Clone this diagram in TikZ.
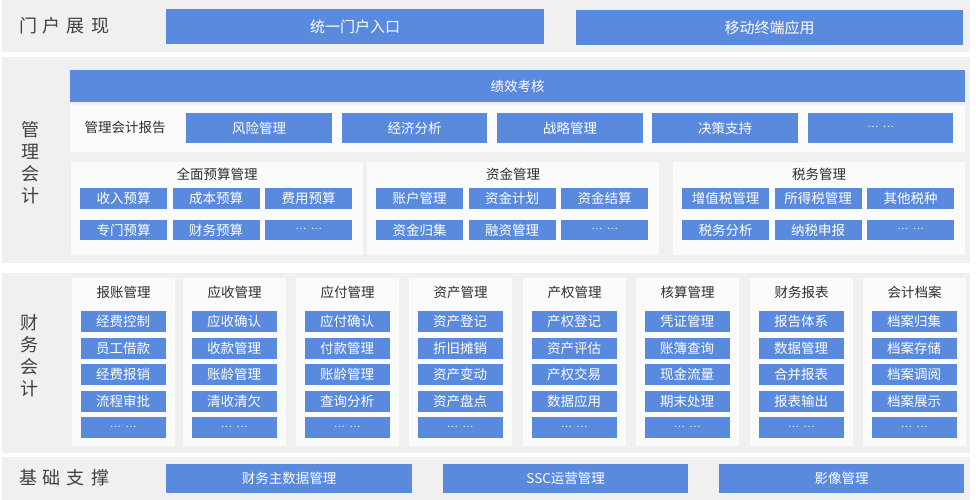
\documentclass[tikz,border=0pt]{standalone}
\usepackage{fontspec}
\setmainfont{Noto Sans CJK SC}
\definecolor{bl}{RGB}{90,138,222}
\definecolor{bandc}{RGB}{240,240,240}
\definecolor{pnlc}{RGB}{251,251,251}
\definecolor{ink}{RGB}{45,45,45}
\definecolor{lab}{RGB}{64,64,64}
\tikzset{
  box/.style={fill=bl,text=white,inner sep=0pt,anchor=north west,font=\fontsize{13.5}{14}\selectfont},
  bigbox/.style={box,font=\fontsize{15}{16}\selectfont},
  bandst/.style={fill=bandc,inner sep=0pt,anchor=north west},
  pnl/.style={fill=pnlc,inner sep=0pt,anchor=north west},
  ttl/.style={text=ink,inner sep=0pt,font=\fontsize{13.5}{14}\selectfont},
  side/.style={text=lab,inner sep=0pt,font=\fontsize{18}{22}\selectfont,align=center},
}
\newcommand\bx[7][box]{\node[#1,minimum width={((#5)-(#3))*1pt},minimum height={((#6)-(#4))*1pt}] (#2) at (#3,#4) {#7};}
\newcommand\dd{{\fontsize{10}{10}\selectfont\raisebox{0.25em}{…}\hspace{5pt}\raisebox{0.25em}{…}}}
\newcommand\fcol[7]{%
  \bx[pnl]{#1}{#2}{278}{#2+103}{446}{}
  \node[ttl] (#1t) at (#2+51.5,292) {#3};
  \bx{#1a}{#2+8.5}{311}{#2+93.5}{332}{#4}
  \bx{#1b}{#2+8.5}{337.5}{#2+93.5}{358.5}{#5}
  \bx{#1c}{#2+8.5}{364}{#2+93.5}{385}{#6}
  \bx{#1d}{#2+8.5}{390.5}{#2+93.5}{411.5}{#7}
  \bx{#1e}{#2+8.5}{417}{#2+93.5}{438}{\dd}}
\newcommand\mpan[9]{%
  \bx[pnl]{#1}{#2}{162}{#2+292}{255}{}
  \node[ttl] (#1t) at (#2+146,174) {#3};
  \bx{#1a}{#2+9}{188}{#2+96}{208.5}{#4}
  \bx{#1b}{#2+101.5}{188}{#2+188.5}{208.5}{#5}
  \bx{#1c}{#2+194}{188}{#2+281}{208.5}{#6}
  \bx{#1d}{#2+9}{219.5}{#2+96}{240}{#7}
  \bx{#1e}{#2+101.5}{219.5}{#2+188.5}{240}{#8}
  \bx{#1f}{#2+194}{219.5}{#2+281}{240}{#9}}
\begin{document}
\begin{tikzpicture}[x=1pt,y=-1pt]
\useasboundingbox (0,0) rectangle (976,500);
\fill[white] (0,0) rectangle (976,500);
% bands
\bx[bandst]{b1}{2}{0}{970}{52}{}
\bx[bandst]{b2}{2}{57}{970}{263}{}
\bx[bandst]{b3}{2}{273}{970}{453}{}
\bx[bandst]{b4}{2}{457}{970}{500}{}
% side labels
\node[side] (l1) at (64,26) {门\hspace{6pt}户\hspace{6pt}展\hspace{6pt}现};
\node[side] (l2) at (30,163) {管\\理\\会\\计};
\node[side] (l3) at (29,356) {财\\务\\会\\计};
\node[side] (l4) at (64,478) {基\hspace{6pt}础\hspace{6pt}支\hspace{6pt}撑};
% portal
\bx[bigbox]{p1}{166}{9}{544}{44}{统一门户入口}
\bx[bigbox]{p2}{576}{10}{963}{45}{移动终端应用}
% management accounting
\bx{jx}{70}{70}{965}{102}{绩效考核}
\bx[pnl]{rp}{70}{105}{965}{152}{}
\node[ttl] (rpl) at (125,127) {管理会计报告};
\bx{r1}{186}{113}{332}{143}{风险管理}
\bx{r2}{342}{113}{487}{143}{经济分析}
\bx{r3}{497}{113}{643}{143}{战略管理}
\bx{r4}{652}{113}{798}{143}{决策支持}
\bx{r5}{808}{113}{953}{143}{\dd}
\mpan{ma}{71}{全面预算管理}{收入预算}{成本预算}{费用预算}{专门预算}{财务预算}{\dd}
\mpan{mb}{367}{资金管理}{账户管理}{资金计划}{资金结算}{资金归集}{融资管理}{\dd}
\mpan{mc}{673}{税务管理}{增值税管理}{所得税管理}{其他税种}{税务分析}{纳税申报}{\dd}
% financial accounting
\fcol{f1}{72}{报账管理}{经费控制}{员工借款}{经费报销}{流程审批}
\fcol{f2}{183}{应收管理}{应收确认}{收款管理}{账龄管理}{清收清欠}
\fcol{f3}{296}{应付管理}{应付确认}{付款管理}{账龄管理}{查询分析}
\fcol{f4}{409}{资产管理}{资产登记}{折旧摊销}{资产变动}{资产盘点}
\fcol{f5}{523}{产权管理}{产权登记}{资产评估}{产权交易}{数据应用}
\fcol{f6}{636}{核算管理}{凭证管理}{账簿查询}{现金流量}{期末处理}
\fcol{f7}{750}{财务报表}{报告体系}{数据管理}{合并报表}{报表输出}
\fcol{f8}{863}{会计档案}{档案归集}{档案存储}{档案调阅}{档案展示}
% base
\bx{s1}{166}{464}{412}{493}{财务主数据管理}
\bx{s2}{443}{464}{688}{493}{SSC运营管理}
\bx{s3}{719}{464}{964}{493}{影像管理}
\end{tikzpicture}
\end{document}
